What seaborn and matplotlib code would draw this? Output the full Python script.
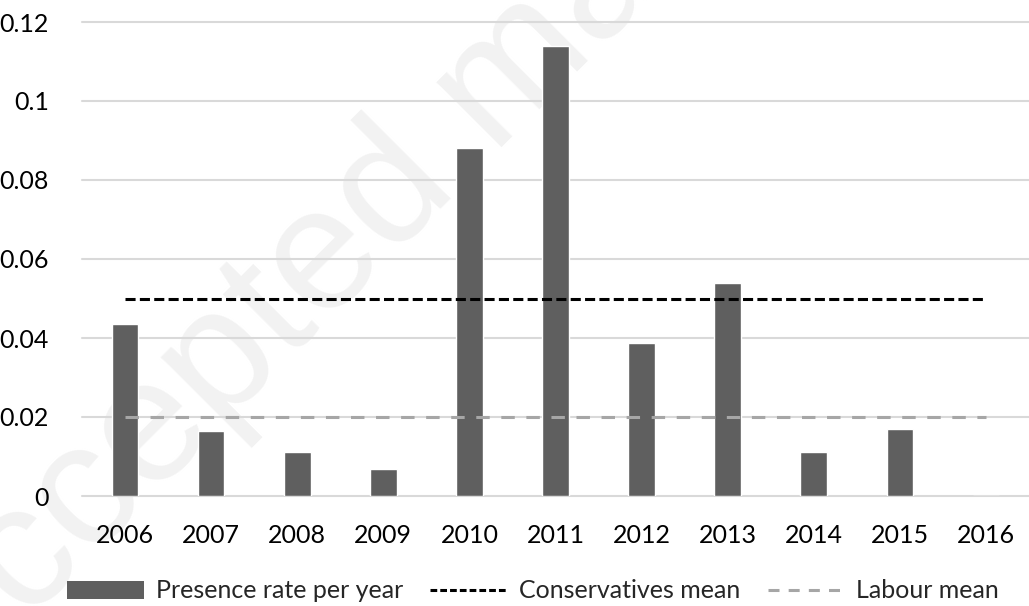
import matplotlib
matplotlib.use("Agg")
import matplotlib.pyplot as plt
import seaborn as sns
import pandas as pd
from matplotlib.patches import Patch
from matplotlib.lines import Line2D

years = ["2006", "2007", "2008", "2009", "2010", "2011", "2012", "2013", "2014", "2015", "2016"]
presence_rate = [0.0435, 0.0165, 0.0111, 0.0068, 0.0881, 0.1139, 0.0387, 0.0539, 0.0111, 0.0170, 0.0]
conservatives_mean = 0.05
labour_mean = 0.02
y_ticks = [0, 0.02, 0.04, 0.06, 0.08, 0.1, 0.12]
y_tick_labels = ["0", "0.02", "0.04", "0.06", "0.08", "0.1", "0.12"]

sns.set_theme(style="white")
plt.rcParams["font.family"] = ["Lato", "DejaVu Sans"]

df = pd.DataFrame({"year": years, "rate": presence_rate})

fig = plt.figure(figsize=(10.29, 6.06), dpi=100)
ax = fig.add_axes([82 / 1029, 1 - 496 / 606, 1 - 82 / 1029, 474 / 606])
ax.patch.set_alpha(0)

# watermark (behind everything in the axes)
ax.text(-0.055, -0.165, "Accepted manuscript", rotation=45, rotation_mode="anchor",
        ha="left", va="baseline", fontsize=126, color="#f2f2f2",
        family="Liberation Sans", transform=fig.transFigure, clip_on=False,
        zorder=0.1)

sns.barplot(data=df, x="year", y="rate", color="#5f5f5f", width=0.31,
            saturation=1, ax=ax, zorder=3)

n = len(years)
cons_style = (0, (3.3, 1.4))
lab_style = (0, (4.4, 3.8))
ax.hlines(conservatives_mean, 0, n - 1, colors="black", linewidth=2.2,
          linestyles=cons_style, zorder=4)
ax.hlines(labour_mean, 0, n - 1, colors="#a6a6a6", linewidth=2.2,
          linestyles=lab_style, zorder=4)

ax.set_ylim(0, 0.12)
ax.set_xlim(-0.5, n - 0.5)
ax.set_yticks(y_ticks)
ax.set_yticklabels(y_tick_labels)
ax.set_axisbelow(True)
ax.yaxis.grid(True, color="#d9d9d9", linewidth=1.5)
for gl in ax.get_ygridlines():
    gl.set_clip_on(False)
    gl.set_zorder(0.5)
for s in ax.spines.values():
    s.set_visible(False)
ax.set_xlabel("")
ax.set_ylabel("")
ax.tick_params(axis="both", length=0, labelsize=18, colors="black")
ax.tick_params(axis="y", pad=24)
ax.tick_params(axis="x", pad=20)

handles = [
    Patch(facecolor="#5f5f5f", edgecolor="none"),
    Line2D([0], [0], color="black", linewidth=2.2, linestyle=(0, (2.2, 1.0))),
    Line2D([0], [0], color="#a6a6a6", linewidth=2.2, linestyle=(0, (3.6, 3.0))),
]
labels = ["Presence rate per year", "Conservatives mean", "Labour mean"]
fig.legend(handles, labels, loc="center", bbox_to_anchor=(533 / 1029, 1 - 591 / 606),
           ncol=3, frameon=False, fontsize=18, handlelength=3.1, handleheight=0.75,
           handletextpad=0.45, columnspacing=1.1)

fig.savefig("out.png", dpi=100)
